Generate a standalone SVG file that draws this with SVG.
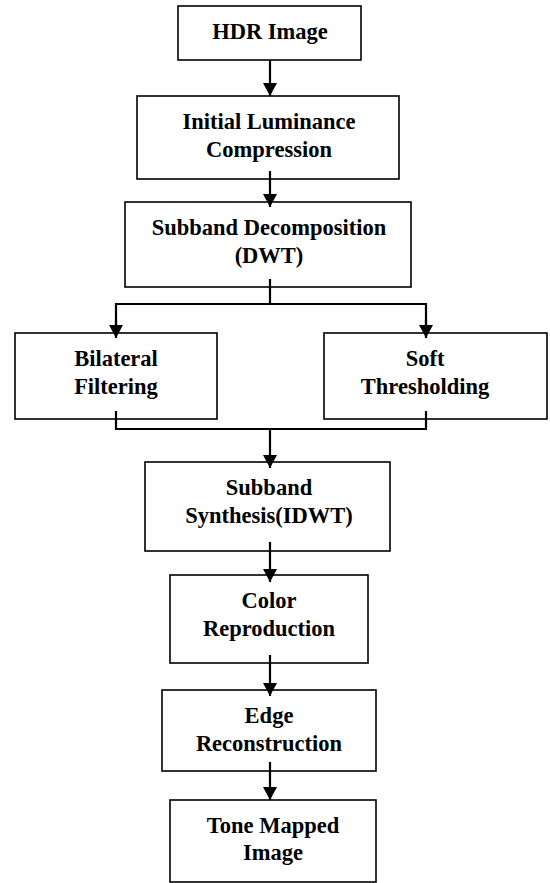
<svg xmlns="http://www.w3.org/2000/svg" width="550" height="883" viewBox="0 0 550 883">
<style>
.box{fill:#fff;stroke:#000;stroke-width:1.6}
.t{font-family:'Liberation Serif','Times New Roman','DejaVu Serif',serif;font-weight:bold;font-size:22.5px;text-anchor:middle;fill:#000}
.c{fill:none;stroke:#000;stroke-width:2.2}
</style>
<defs>
<marker id="ah" markerUnits="userSpaceOnUse" markerWidth="13" markerHeight="14" refX="13" refY="7" orient="auto">
<path d="M0,0 L13,7 L0,14 z" fill="#000"/>
</marker>
</defs>
<g id="hdr">
<rect class="box" x="178" y="6" width="183" height="54"/>
<text class="t" x="270" y="39">HDR Image</text>
</g>
<g id="initial">
<rect class="box" x="137" y="96" width="262" height="83"/>
<text class="t" x="269" y="129">Initial Luminance</text>
<text class="t" x="269" y="157">Compression</text>
</g>
<g id="decomp">
<rect class="box" x="125" y="202" width="286" height="85"/>
<text class="t" x="269" y="235">Subband Decomposition</text>
<text class="t" x="269" y="263">(DWT)</text>
</g>
<g id="bilateral">
<rect class="box" x="15" y="333" width="202" height="86"/>
<text class="t" x="116" y="366">Bilateral</text>
<text class="t" x="116" y="394">Filtering</text>
</g>
<g id="soft">
<rect class="box" x="324" y="333" width="223" height="86"/>
<text class="t" x="425" y="366">Soft</text>
<text class="t" x="425" y="394">Thresholding</text>
</g>
<g id="synthesis">
<rect class="box" x="145" y="462" width="245" height="89"/>
<text class="t" x="269" y="495">Subband</text>
<text class="t" x="269" y="523">Synthesis(IDWT)</text>
</g>
<g id="color">
<rect class="box" x="170" y="575" width="198" height="88"/>
<text class="t" x="269" y="608">Color</text>
<text class="t" x="269" y="636">Reproduction</text>
</g>
<g id="edge">
<rect class="box" x="162" y="690" width="214" height="81"/>
<text class="t" x="269" y="723">Edge</text>
<text class="t" x="269" y="751">Reconstruction</text>
</g>
<g id="tone">
<rect class="box" x="170" y="800" width="206" height="82"/>
<text class="t" x="273" y="833">Tone Mapped</text>
<text class="t" x="273" y="860">Image</text>
</g>
<g id="connectors">
<line class="c" x1="270" y1="60" x2="270" y2="96" marker-end="url(#ah)"/>
<line class="c" x1="270" y1="171" x2="270" y2="207" marker-end="url(#ah)"/>
<polyline class="c" points="270,279 270,304"/>
<polyline class="c" points="116,326 116,304 426,304 426,326"/>
<line class="c" x1="116" y1="320" x2="116" y2="338" marker-end="url(#ah)"/>
<line class="c" x1="426" y1="320" x2="426" y2="338" marker-end="url(#ah)"/>
<polyline class="c" points="116,411 116,429 426,429 426,411"/>
<line class="c" x1="270" y1="429" x2="270" y2="468" marker-end="url(#ah)"/>
<line class="c" x1="270" y1="542" x2="270" y2="582" marker-end="url(#ah)"/>
<line class="c" x1="270" y1="655" x2="270" y2="696" marker-end="url(#ah)"/>
<line class="c" x1="270" y1="762" x2="270" y2="800" marker-end="url(#ah)"/>
</g>
</svg>
